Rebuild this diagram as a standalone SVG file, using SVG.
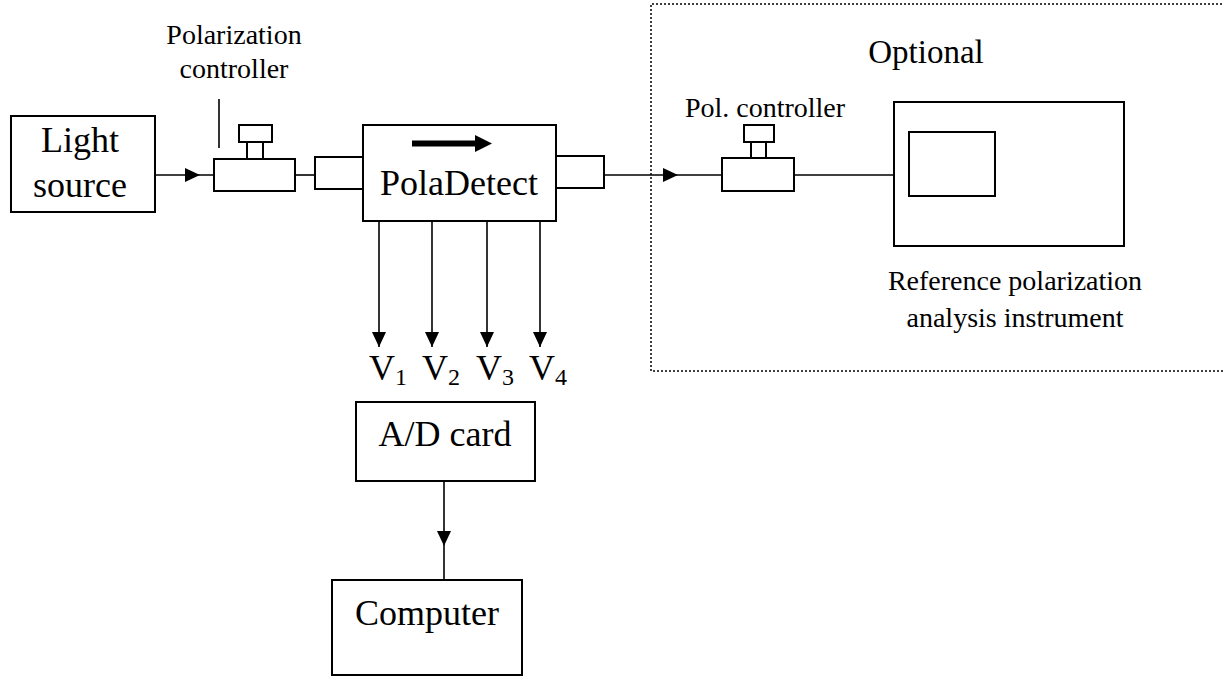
<svg xmlns="http://www.w3.org/2000/svg" width="1224" height="676" viewBox="0 0 1224 676">
<style>
.box{fill:#fff;stroke:#000;stroke-width:2}
.ln{fill:none;stroke:#000;stroke-width:1.6}
.big{font-family:"Liberation Serif","Times New Roman",serif;font-size:36px;fill:#000}
.sm{font-family:"Liberation Serif","Times New Roman",serif;font-size:28px;fill:#000}
.opt{font-family:"Liberation Serif","Times New Roman",serif;font-size:33px;fill:#000}
.sub{font-size:24px}
</style>
<defs>
<marker id="ah" markerUnits="userSpaceOnUse" viewBox="0 0 15 14" refX="15" refY="7" markerWidth="15" markerHeight="14" orient="auto">
<path d="M0,0 L15,7 L0,14 z" fill="#000"/>
</marker>
</defs>
<rect width="1224" height="676" fill="#fff"/>

<g id="optional-region">
<path d="M1230,4 L651,4 L651,371 L1230,371" fill="none" stroke="#000" stroke-width="1.5" stroke-dasharray="2,2"/>
<text class="opt" x="926" y="63" text-anchor="middle">Optional</text>
</g>

<g id="connectors">
<path class="ln" d="M155,175 L200,175 L214,175" marker-mid="url(#ah)"/>
<line class="ln" x1="295" y1="175" x2="315" y2="175"/>
<path class="ln" d="M604,175 L678,175 L722,175" marker-mid="url(#ah)"/>
<line class="ln" x1="794" y1="175" x2="894" y2="175"/>
<line class="ln" x1="379" y1="221" x2="379" y2="347" marker-end="url(#ah)"/>
<line class="ln" x1="432" y1="221" x2="432" y2="347" marker-end="url(#ah)"/>
<line class="ln" x1="487" y1="221" x2="487" y2="347" marker-end="url(#ah)"/>
<line class="ln" x1="540" y1="221" x2="540" y2="347" marker-end="url(#ah)"/>
<path class="ln" d="M444,481 L444,546 L444,580" marker-mid="url(#ah)"/>
</g>

<g id="light-source">
<rect class="box" x="11" y="116" width="144" height="96"/>
<text class="big" x="80" y="152" text-anchor="middle">Light</text>
<text class="big" x="80" y="197" text-anchor="middle">source</text>
</g>

<g id="polarization-controller">
<rect class="box" x="239" y="125" width="33" height="17"/>
<rect class="box" x="247" y="142" width="16" height="17"/>
<rect class="box" x="214" y="159" width="81" height="32"/>
<line class="ln" x1="219" y1="99" x2="219" y2="148"/>
<text class="sm" x="234" y="44" text-anchor="middle">Polarization</text>
<text class="sm" x="234" y="78" text-anchor="middle">controller</text>
</g>

<g id="poladetect">
<rect class="box" x="315" y="157" width="48" height="32"/>
<rect class="box" x="556" y="156" width="48" height="32"/>
<rect class="box" x="363" y="125" width="193" height="96"/>
<path d="M412,140.5 L475,140.5 L475,135 L492,143.5 L475,152 L475,146.5 L412,146.5 z" fill="#000"/>
<text class="big" x="459" y="195" text-anchor="middle">PolaDetect</text>
</g>

<g id="voltages">
<text class="big" x="369" y="380">V<tspan class="sub" dy="5">1</tspan></text>
<text class="big" x="422" y="380">V<tspan class="sub" dy="5">2</tspan></text>
<text class="big" x="476" y="380">V<tspan class="sub" dy="5">3</tspan></text>
<text class="big" x="529" y="380">V<tspan class="sub" dy="5">4</tspan></text>
</g>

<g id="ad-card">
<rect class="box" x="356" y="402" width="179" height="79"/>
<text class="big" x="445" y="446" text-anchor="middle">A/D card</text>
</g>

<g id="computer">
<rect class="box" x="332" y="580" width="190" height="95"/>
<text class="big" x="427" y="625" text-anchor="middle">Computer</text>
</g>

<g id="pol-controller-2">
<rect class="box" x="744" y="125" width="30" height="17"/>
<rect class="box" x="751" y="142" width="15" height="16"/>
<rect class="box" x="722" y="158" width="72" height="33"/>
<text class="sm" x="765" y="117" text-anchor="middle">Pol. controller</text>
</g>

<g id="reference-instrument">
<rect class="box" x="894" y="102" width="230" height="144"/>
<rect class="box" x="909" y="132" width="86" height="64"/>
<text class="sm" x="1015" y="290" text-anchor="middle">Reference polarization</text>
<text class="sm" x="1015" y="327" text-anchor="middle">analysis instrument</text>
</g>
</svg>
